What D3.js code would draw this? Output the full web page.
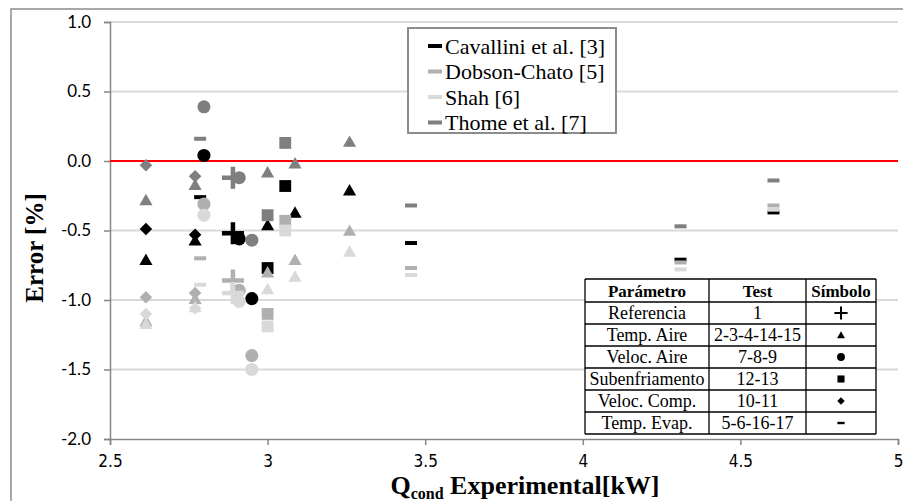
<!DOCTYPE html>
<html><head><meta charset="utf-8">
<script src="https://cdn.jsdelivr.net/npm/d3@7"></script>
<style>
html,body{margin:0;padding:0;background:#fff;}
svg{display:block;}
</style></head>
<body>
<svg id="c" width="903" height="501"></svg>
<script>
// ---- data ----
const seriesNames = ["Cavallini et al. [3]", "Dobson-Chato [5]", "Shah [6]", "Thome et al. [7]"];
const seriesColors = ["#000000", "#b0b0b0", "#d9d9d9", "#7f7f7f"];
// tests 1..17 grouped by parameter
const testX =      [2.89, 2.614, 2.77, 3.00, 3.087, 3.26, 2.798, 2.91, 2.95, 3.00, 3.056, 2.614, 2.77, 2.786, 3.455, 4.31, 4.605];
const testSymbol = ["plus","tri","tri","tri","tri","tri","circle","circle","circle","square","square","diamond","diamond","dash","dash","dash","dash"];
const cavallini =  [-0.52, -0.71, -0.57, -0.46, -0.37, -0.21, 0.04, -0.56, -0.99, -0.77, -0.18, -0.49, -0.53, -0.26, -0.59, -0.71, -0.37];
const dobson =     [-0.86, -1.15, -0.99, -0.80, -0.71, -0.50, -0.31, -0.93, -1.40, -1.10, -0.43, -0.98, -0.95, -0.70, -0.77, -0.73, -0.32];
const shah =       [-0.95, -1.17, -1.05, -0.92, -0.83, -0.65, -0.39, -1.01, -1.50, -1.19, -0.50, -1.10, -1.06, -0.89, -0.82, -0.78, -0.35];
const thome =      [-0.12, -0.28, -0.17, -0.08, -0.015, 0.14, 0.39, -0.12, -0.57, -0.39, 0.13, -0.03, -0.11, 0.16, -0.32, -0.47, -0.14];
const seriesValues = [cavallini, dobson, shah, thome];
const yTicks = [-2.0, -1.5, -1.0, -0.5, 0.0, 0.5, 1.0];
const xTicks = [2.5, 3, 3.5, 4, 4.5, 5];
const tableHeader = ["Parámetro", "Test", "Símbolo"];
const tableParams = ["Referencia", "Temp. Aire", "Veloc. Aire", "Subenfriamento", "Veloc. Comp.", "Temp. Evap."];
const tableTests = ["1", "2-3-4-14-15", "7-8-9", "12-13", "10-11", "5-6-16-17"];
const tableSymbols = ["plus", "tri", "circle", "square", "diamond", "dash"];

// ---- layout ----
const svg = d3.select("#c");
const x = d3.scaleLinear().domain([2.5, 5]).range([110, 898]);
const y = d3.scaleLinear().domain([-2, 1]).range([439, 22]);
const tf = "'Liberation Serif', 'Times New Roman', serif";

// outer frame
svg.append("rect").attr("x", 11).attr("y", 9).attr("width", 900).attr("height", 500)
  .attr("fill", "none").attr("stroke", "#8c8c8c").attr("stroke-width", 1.5);

// gridlines
svg.append("g").selectAll("line").data(yTicks.filter(d => d > -2)).join("line")
  .attr("x1", x(2.5)).attr("x2", x(5)).attr("y1", d => y(d)).attr("y2", d => y(d))
  .attr("stroke", "#d9d9d9").attr("stroke-width", 2);

// axes
const yAxis = d3.axisLeft(y).tickValues(yTicks).tickFormat(d => d.toFixed(1)).tickSize(6).tickPadding(13);
const gy = svg.append("g").attr("transform", `translate(${x(2.5)},0)`).call(yAxis);
gy.select(".domain").attr("stroke", "#868686").attr("stroke-width", 1.5);
gy.selectAll(".tick line").attr("stroke", "#868686").attr("stroke-width", 1.5);
gy.selectAll(".tick text").attr("font-family", "Lato, 'Open Sans', sans-serif").attr("font-size", 17).attr("fill", "#000");

const xAxis = d3.axisBottom(x).tickValues(xTicks).tickFormat(d => String(d)).tickSize(6).tickPadding(10);
const gx = svg.append("g").attr("transform", `translate(0,${y(-2)})`).call(xAxis);
gx.select(".domain").attr("stroke", "#868686").attr("stroke-width", 1.5);
gx.selectAll(".tick line").attr("stroke", "#868686").attr("stroke-width", 1.5);
gx.selectAll(".tick text").attr("font-family", "'Liberation Sans Narrow', 'DejaVu Sans Condensed', sans-serif").attr("font-size", 17).attr("fill", "#000");

// zero line
svg.append("line").attr("x1", x(2.5)).attr("x2", x(5)).attr("y1", y(0)).attr("y2", y(0))
  .attr("stroke", "#ff0000").attr("stroke-width", 2);

// symbol helpers
function symPath(type, scale) {
  const s = scale || 1;
  switch (type) {
    case "tri": return d3.symbol(d3.symbolTriangle, 75 * s * s)();
    case "circle": return d3.symbol(d3.symbolCircle, 135 * s * s)();
    case "square": return d3.symbol(d3.symbolSquare, 140 * s * s)();
    case "diamond": return d3.symbol(d3.symbolDiamond2, 100 * s * s)();
  }
  return null;
}
function drawSymbol(g, type, cx, cy, color, scale) {
  const s = scale || 1;
  if (type === "plus") {
    const r = 11 * s;
    g.append("path").attr("d", `M${cx - r},${cy}H${cx + r}M${cx},${cy - r}V${cy + r}`)
      .attr("stroke", color).attr("stroke-width", s < 1 ? 2 : 4.5).attr("fill", "none");
  } else if (type === "dash") {
    const w = 12 * s, h = 4 * s;
    g.append("rect").attr("x", cx - w / 2).attr("y", cy - h / 2).attr("width", w).attr("height", h).attr("fill", color);
  } else {
    let dy = 0;
    if (type === "tri") dy = 1.5 * s;
    g.append("path").attr("d", symPath(type, s)).attr("transform", `translate(${cx},${cy + dy})`).attr("fill", color);
  }
}

// points
const gp = svg.append("g");
seriesValues.forEach((vals, si) => {
  const order = d3.range(testX.length).sort((a, b) => (testSymbol[a] === "plus") - (testSymbol[b] === "plus"));
  order.forEach(i => drawSymbol(gp, testSymbol[i], x(testX[i]), y(vals[i]), seriesColors[si], 1));
});

// legend
const lg = svg.append("g");
lg.append("rect").attr("x", 408).attr("y", 28).attr("width", 208).attr("height", 105)
  .attr("fill", "#fff").attr("stroke", "#8c8c8c").attr("stroke-width", 2);
seriesNames.forEach((n, i) => {
  const cy = 46 + i * 25.5;
  lg.append("rect").attr("x", 428).attr("y", cy - 2).attr("width", 14).attr("height", 4).attr("fill", seriesColors[i]);
  lg.append("text").attr("x", 445).attr("y", cy + 7.5).text(n)
    .attr("font-family", tf).attr("font-size", 22).attr("fill", "#000");
});

// table
const tg = svg.append("g");
const colX = [585, 709, 806, 876];
const rowY = [279, 302, 324, 346, 368, 390, 412, 434];
tg.append("rect").attr("x", colX[0]).attr("y", rowY[0]).attr("width", colX[3] - colX[0]).attr("height", rowY[7] - rowY[0])
  .attr("fill", "#fff");
rowY.forEach(ry => tg.append("line").attr("x1", colX[0]).attr("x2", colX[3]).attr("y1", ry).attr("y2", ry).attr("stroke", "#000").attr("stroke-width", 1.3));
colX.forEach(cx => tg.append("line").attr("x1", cx).attr("x2", cx).attr("y1", rowY[0]).attr("y2", rowY[7]).attr("stroke", "#000").attr("stroke-width", 1.3));
tableHeader.forEach((h, j) => {
  tg.append("text").attr("x", (colX[j] + colX[j + 1]) / 2).attr("y", (rowY[0] + rowY[1]) / 2 + 6)
    .attr("text-anchor", "middle").attr("font-family", tf).attr("font-weight", "bold").attr("font-size", 17).text(h);
});
tableParams.forEach((p, i) => {
  const cy = (rowY[i + 1] + rowY[i + 2]) / 2;
  tg.append("text").attr("x", (colX[0] + colX[1]) / 2).attr("y", cy + 6).attr("text-anchor", "middle")
    .attr("font-family", tf).attr("font-size", 18).text(p);
  tg.append("text").attr("x", (colX[1] + colX[2]) / 2).attr("y", cy + 6).attr("text-anchor", "middle")
    .attr("font-family", tf).attr("font-size", 18).text(tableTests[i]);
  drawSymbol(tg, tableSymbols[i], (colX[2] + colX[3]) / 2, cy, "#000", 0.6);
});

// axis titles
svg.append("text").attr("transform", "translate(43,248) rotate(-90)").attr("text-anchor", "middle")
  .attr("font-family", tf).attr("font-weight", "bold").attr("font-size", 25).text("Error [%]");
const xt = svg.append("text").attr("x", 525).attr("y", 494).attr("text-anchor", "middle")
  .attr("font-family", tf).attr("font-weight", "bold").attr("font-size", 26);
xt.append("tspan").text("Q");
xt.append("tspan").attr("font-size", 16).attr("dy", 5).text("cond");
xt.append("tspan").attr("dy", -5).text(" Experimental[kW]");
</script>
</body></html>
